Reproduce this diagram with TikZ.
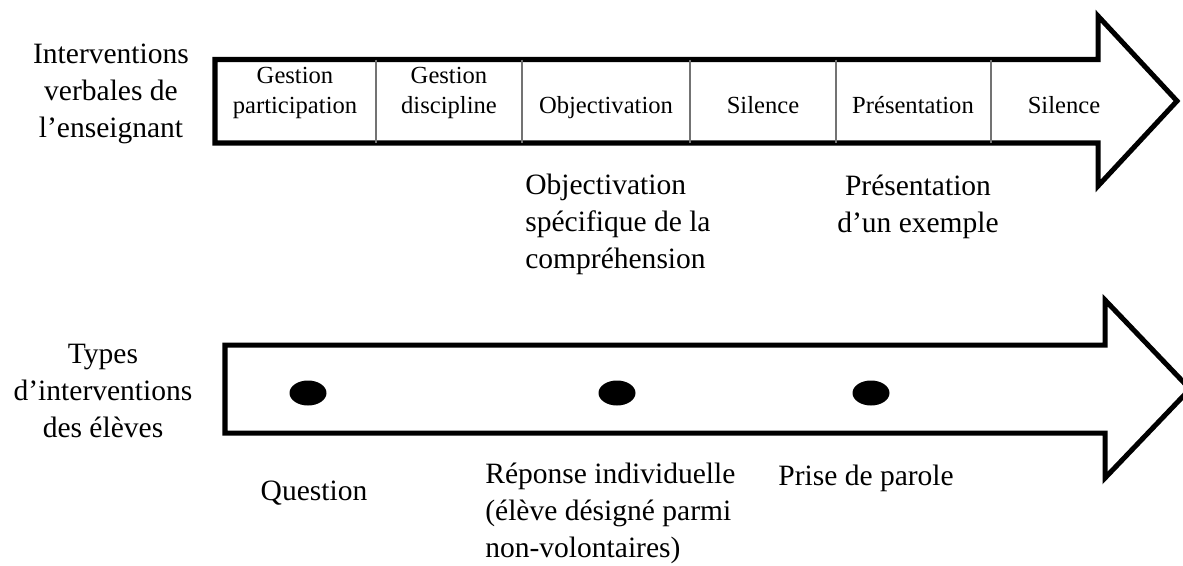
\documentclass[tikz,border=0pt]{standalone}
\usepackage{fontspec}
\setmainfont{Liberation Serif}
\usetikzlibrary{shapes.geometric}

\begin{document}
\begin{tikzpicture}[
        x=0.02cm,
        y=-0.02cm,
        bigarrow/.style={
            draw,
            line width=2.85pt,
            miter limit=10
        },
        sep/.style={
            draw=black!55,
            line width=0.6pt
        },
        cell/.style={
            align=center,
            inner sep=0pt,
            anchor=base,
            font=\fontsize{14}{17}\selectfont
        },
        label/.style={
            align=center,
            inner sep=0pt,
            anchor=base,
            font=\fontsize{16.8}{21}\selectfont
        },
        note/.style={
            align=left,
            inner sep=0pt,
            anchor=base west,
            font=\fontsize{16.8}{21}\selectfont
        },
        dot/.style={
            ellipse,
            fill=black,
            inner sep=0pt,
            minimum width=0.74cm,
            minimum height=0.5cm
        }
    ]

        \useasboundingbox (0,0) rectangle (1183,565);

        \draw[bigarrow] (215,59.5) -- (1098,59.5) -- (1098,16) -- (1177,101)
            -- (1098,186) -- (1098,143) -- (215,143) -- cycle;
        \draw[bigarrow] (225,345) -- (1105,345) -- (1105,300) -- (1190,389)
            -- (1105,478) -- (1105,433) -- (225,433) -- cycle;

        \foreach \x in {376,522,690,836,991}
            \draw[sep] (\x,59.5) -- (\x,143);

        \node[cell] (c1) at (295,113) {Gestion\\participation};
        \node[cell] (c2) at (449,113) {Gestion\\discipline};
        \node[cell] (c3) at (606,113) {Objectivation};
        \node[cell] (c4) at (763,113) {Silence};
        \node[cell] (c5) at (913,113) {Présentation};
        \node[cell] (c6) at (1064,113) {Silence};

        \node[label] (teacher) at (111,137) {Interventions\\verbales de\\l’enseignant};
        \node[label] (pupils) at (103,437) {Types\\d’interventions\\des élèves};

        \node[note] (objspec) at (525,268) {Objectivation\\spécifique de la\\compréhension};
        \node[label] (example) at (918,232) {Présentation\\d’un exemple};

        \node[dot] (d1) at (308,393) {};
        \node[dot] (d2) at (617,393) {};
        \node[dot] (d3) at (871,393) {};

        \node[label] (question) at (314,500) {Question};
        \node[note] (answer) at (485,557) {Réponse individuelle\\(élève désigné parmi\\non-volontaires)};
        \node[note] (speech) at (778,485) {Prise de parole};

    \end{tikzpicture}
\end{document}
